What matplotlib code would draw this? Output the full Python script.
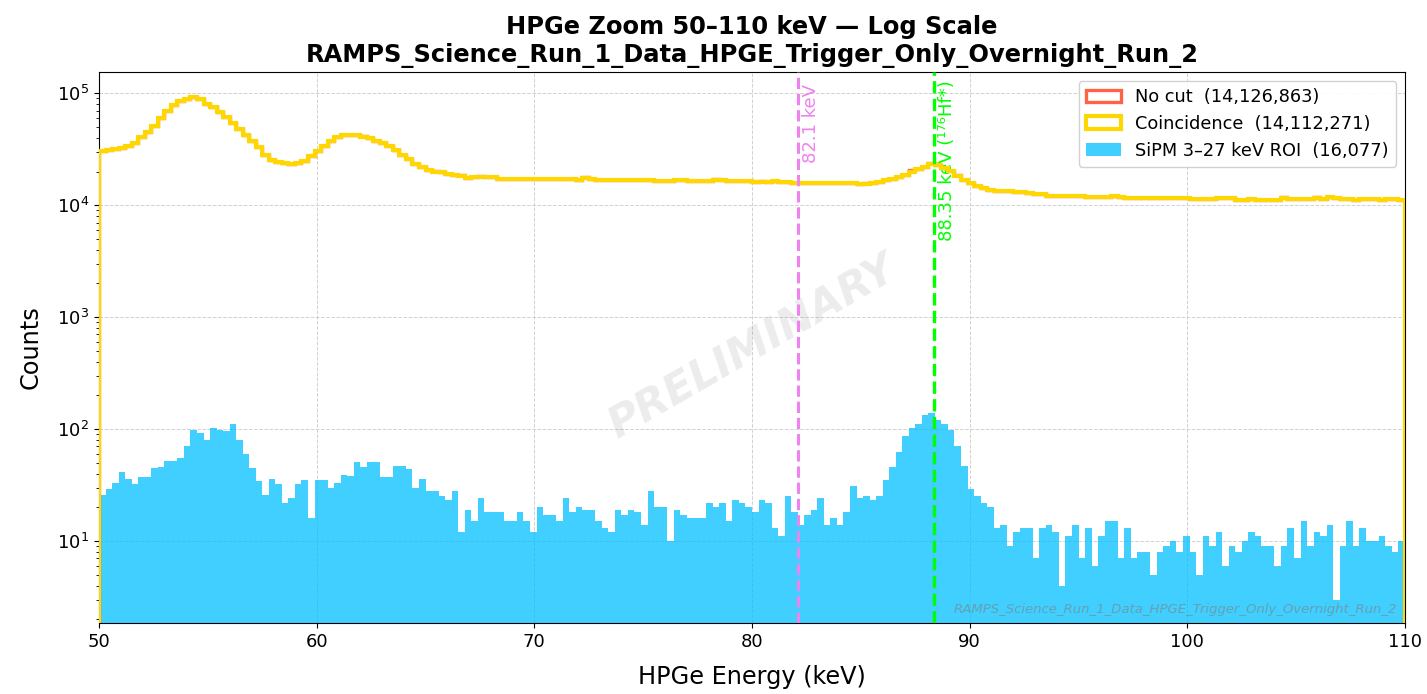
import numpy as np
import matplotlib
matplotlib.use("Agg")
import matplotlib.pyplot as plt

# ---------------- data (counts per 0.3 keV bin, 50-110 keV) ----------------
e_min, e_max, n_bins = 50.0, 110.0, 200

coincidence = [
    30500, 30900, 31800, 32300, 34000, 36300, 40500, 45500, 51000, 60000,
    69500, 78600, 86000, 89500, 92000, 88500, 80300, 75000, 68000, 61500,
    54400, 48300, 42800, 37800, 32900, 28000, 25600, 24500, 23700, 23400,
    23700, 25000, 27600, 30800, 34100, 37800, 40500, 42200, 42800, 42500,
    41000, 39600, 37800, 36300, 34000, 31200, 28200, 25800, 23400, 21900,
    20700, 19600, 19700, 19100, 18700, 18200, 17600, 17700, 18000, 17800,
    17700, 17300, 17200, 17200, 17100, 17200, 17200, 17100, 17200, 17200,
    17100, 17100, 17200, 16800, 17400, 17300, 16900, 16800, 16800, 16800,
    16700, 16800, 16800, 16700, 16700, 16400, 16300, 16400, 16700, 16700,
    16600, 16400, 16400, 16500, 16700, 16700, 16400, 16300, 16300, 16300,
    16000, 16100, 16200, 16300, 16000, 16000, 15900, 15700, 15700, 15700,
    15700, 15700, 15700, 15700, 15700, 15700, 15600, 15500, 15900, 16200,
    16800, 17300, 17800, 18700, 20000, 21100, 22100, 23400, 22800, 21600,
    20200, 18300, 16800, 15700, 14800, 14200, 13800, 13500, 13400, 13300,
    13100, 13000, 12800, 12700, 12600, 12200, 12100, 12200, 12100, 12100,
    12100, 11900, 11800, 11800, 11800, 12000, 11900, 11600, 11500, 11600,
    11500, 11600, 11500, 11500, 11600, 11500, 11500, 11400, 11400, 11400,
    11400, 11500, 11600, 11500, 11200, 11200, 11300, 11200, 11200, 11200,
    11200, 11500, 11400, 11400, 11400, 11400, 11500, 11400, 11800, 11700,
    11300, 11300, 11200, 11300, 11300, 11300, 11200, 11300, 11300, 11200,
]

# bins where "No cut" exceeds "Coincidence" visibly (bin index -> extra counts)
nocut_excess = {40: 900, 51: 500, 55: 400, 58: 400, 74: 400, 94: 350, 101: 350,
                117: 350, 124: 450, 127: 500, 131: 400, 181: 250, 186: 250}

sipm_roi = [
    26, 29, 33, 41, 36, 32, 37, 37, 45, 46,
    52, 52, 55, 70, 98, 92, 80, 103, 99, 97,
    110, 80, 60, 45, 34, 26, 36, 32, 22, 24,
    32, 35, 16, 35, 35, 30, 33, 39, 38, 51,
    46, 51, 51, 37, 37, 47, 47, 44, 30, 36,
    28, 28, 25, 23, 28, 12, 19, 15, 24, 18,
    18, 18, 15, 15, 18, 15, 12, 20, 17, 17,
    15, 24, 18, 20, 19, 19, 15, 13, 12, 19,
    17, 19, 18, 14, 28, 20, 20, 10, 19, 17,
    16, 16, 16, 22, 20, 22, 15, 23, 22, 20,
    18, 23, 22, 13, 11, 25, 18, 14, 17, 19,
    24, 14, 16, 14, 18, 31, 24, 25, 23, 25,
    35, 46, 63, 87, 103, 111, 134, 139, 120, 111,
    99, 71, 47, 29, 25, 22, 20, 13, 14, 9,
    12, 13, 13, 7, 13, 14, 12, 4, 11, 14,
    7, 13, 6, 11, 15, 15, 7, 13, 7, 8,
    8, 5, 8, 9, 10, 8, 11, 8, 5, 11,
    9, 12, 6, 9, 8, 10, 12, 11, 9, 9,
    6, 9, 13, 7, 15, 9, 12, 11, 14, 3,
    9, 15, 9, 13, 10, 10, 11, 9, 8, 10,
]

labels = ["No cut  (14,126,863)", "Coincidence  (14,112,271)", "SiPM 3\u201327 keV ROI  (16,077)"]
line_energies = [82.1, 88.35]
line_labels = ["82.1 keV", "88.35 keV (\u00b9\u2077\u2076Hf*)"]
run_name = "RAMPS_Science_Run_1_Data_HPGE_Trigger_Only_Overnight_Run_2"

# ---------------- plotting ----------------
edges = np.linspace(e_min, e_max, n_bins + 1)
centers = 0.5 * (edges[:-1] + edges[1:])
coinc = np.array(coincidence, dtype=float)
nocut = coinc.copy()
for k, v in nocut_excess.items():
    nocut[k] += v

fig = plt.figure(figsize=(14.27, 6.94), dpi=100)
ax = fig.add_axes([0.0694, 0.1023, 0.9152, 0.794])
ax.set_yscale("log")

ax.hist(centers, bins=edges, weights=nocut, histtype="step", color="tomato",
        lw=2.4, label=labels[0], zorder=3)
ax.hist(centers, bins=edges, weights=coinc, histtype="step", color="gold",
        lw=3.0, label=labels[1], zorder=4)
ax.hist(centers, bins=edges, weights=sipm_roi, histtype="stepfilled",
        color="deepskyblue", alpha=0.75, label=labels[2], zorder=2)

ax.axvline(line_energies[0], color="violet", ls="--", lw=2.2, zorder=5)
ax.axvline(line_energies[1], color="lime", ls="--", lw=2.4, zorder=5)
ax.text(line_energies[0] + 0.18, 0.978, line_labels[0], transform=ax.get_xaxis_transform(),
        rotation=90, ha="left", va="top", color="violet", fontsize=13)
ax.text(line_energies[1] + 0.18, 0.985, line_labels[1], transform=ax.get_xaxis_transform(),
        rotation=90, ha="left", va="top", color="lime", fontsize=13)

ax.text(0.5, 0.5, "PRELIMINARY", transform=ax.transAxes, rotation=30,
        ha="center", va="center", fontsize=31, fontweight="bold", style="italic",
        color="grey", alpha=0.15, zorder=1)
ax.text(0.994, 0.012, run_name, transform=ax.transAxes, ha="right", va="bottom",
        fontsize=9.5, style="italic", color="grey", alpha=0.6, zorder=6)

ax.set_xlim(e_min, e_max)
ax.set_ylim(1.85, 1.55e5)
ax.set_xticks(np.arange(50, 111, 10))
ax.grid(True, which="major", ls="--", lw=0.7, color="#cccccc", alpha=0.9)
ax.set_axisbelow(True)
ax.tick_params(axis="both", labelsize=13)

ax.set_xlabel("HPGe Energy (keV)", fontsize=17.3, labelpad=10)
ax.set_ylabel("Counts", fontsize=17.3, labelpad=10)
ax.set_title("HPGe Zoom 50\u2013110 keV \u2014 Log Scale\n" + run_name,
             fontsize=17.4, fontweight="bold", pad=7)

ax.legend(loc="upper right", fontsize=12.8, framealpha=0.9)

fig.savefig("out.png", dpi=100)
